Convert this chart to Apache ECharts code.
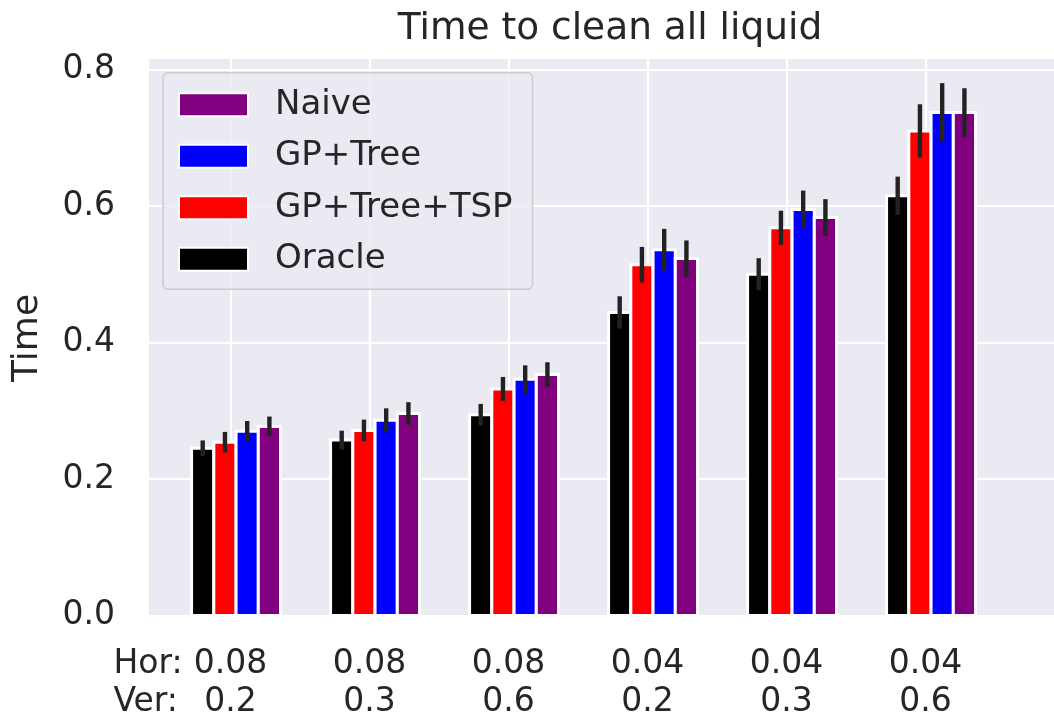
<!DOCTYPE html>
<html>
<head>
<meta charset="utf-8">
<script src="https://cdn.jsdelivr.net/npm/echarts@6/dist/echarts.min.js"></script>
<style>
  html, body { margin: 0; padding: 0; background: #ffffff; }
  #chart { width: 1054px; height: 716px; }
</style>
</head>
<body>
<div id="chart"></div>
<script>
// Grid resolution settings for each scenario
const horizontal = ['0.08', '0.08', '0.08', '0.04', '0.04', '0.04'];
const vertical   = ['0.2', '0.3', '0.6', '0.2', '0.3', '0.6'];

// Mean cleaning time per method, and half-width of its error bar
const oracleTime = [0.245, 0.257, 0.294, 0.444, 0.500, 0.615];
const oracleErr  = [0.0115, 0.0138, 0.016, 0.0237, 0.0235, 0.028];
const tspTime    = [0.254, 0.271, 0.332, 0.514, 0.568, 0.710];
const tspErr     = [0.015, 0.016, 0.0175, 0.026, 0.025, 0.039];
const treeTime   = [0.270, 0.286, 0.346, 0.536, 0.595, 0.737];
const treeErr    = [0.015, 0.0175, 0.0205, 0.0305, 0.0275, 0.043];
const naiveTime  = [0.277, 0.296, 0.353, 0.523, 0.583, 0.737];
const naiveErr   = [0.0145, 0.0165, 0.018, 0.0265, 0.027, 0.0355];

const legendOrder = ['Naive', 'GP+Tree', 'GP+Tree+TSP', 'Oracle'];
const yTickStep = 0.2;
const yMax = 0.8168;

const FONT = 'DejaVu Sans';
const INK = '#262626';
const BG = '#EAEAF2';

// bars drawn left to right inside each group
const methods = [
  { name: 'Oracle',      color: '#000000', mean: oracleTime, err: oracleErr },
  { name: 'GP+Tree+TSP', color: '#ff0000', mean: tspTime,    err: tspErr },
  { name: 'GP+Tree',     color: '#0000ff', mean: treeTime,   err: treeErr },
  { name: 'Naive',       color: '#800080', mean: naiveTime,  err: naiveErr }
];

const BAR_FRAC = 0.16;   // bar width relative to group spacing
const GROUP_SHIFT = 1.25; // bar slot that sits on the tick

const series = methods.map((m, k) => ({
  type: 'custom',
  name: m.name,
  xAxisIndex: 1,
  yAxisIndex: 1,
  clip: false,
  z: 3,
  itemStyle: { color: m.color },
  encode: { x: 0, y: 1 },
  data: m.mean.map((v, i) => [i, v, m.err[i]]),
  renderItem: (params, api) => {
    const i = api.value(0);
    const v = api.value(1);
    const e = api.value(2);
    const band = api.size([1, 0])[0];
    const w = band * BAR_FRAC;
    const base = api.coord([i, 0]);
    const top = api.coord([i, v]);
    const lo = api.coord([i, v - e]);
    const hi = api.coord([i, v + e]);
    const cx = base[0] + (k - GROUP_SHIFT) * w;
    return {
      type: 'group',
      children: [
        {
          type: 'rect',
          shape: { x: cx - w / 2, y: top[1], width: w, height: base[1] - top[1] },
          style: { fill: api.visual('color'), stroke: '#ffffff', lineWidth: 3 }
        },
        {
          type: 'line',
          shape: { x1: cx, y1: hi[1], x2: cx, y2: lo[1] },
          style: { stroke: '#222222', lineWidth: 4.4 },
          z2: 10
        }
      ]
    };
  }
}));

const chart = echarts.init(document.getElementById('chart'), null, { renderer: 'canvas' });

chart.setOption({
  animation: false,
  backgroundColor: '#ffffff',
  title: {
    text: 'Time to clean all liquid',
    left: 605,
    top: 4,
    textAlign: 'center',
    textStyle: { fontFamily: FONT, fontSize: 37.5, fontWeight: 'normal', color: INK, lineHeight: 40 }
  },
  legend: {
    data: legendOrder.map(n => ({ name: n, icon: 'rect' })),
    orient: 'vertical',
    left: 163,
    top: 72.7,
    padding: [15, 20, 13, 15],
    itemWidth: 69,
    itemHeight: 23,
    itemGap: 17.5,
    itemStyle: { borderColor: '#ffffff', borderWidth: 2 },
    textStyle: { fontFamily: FONT, fontSize: 34, color: INK, padding: [0, 0, 0, 22] },
    backgroundColor: 'rgba(234,234,242,0.8)',
    borderColor: '#cccccc',
    borderWidth: 1.5,
    borderRadius: 5,
    selectedMode: false
  },
  grid: [
    { // plot background with horizontal grid lines
      show: true, backgroundColor: BG, borderWidth: 0,
      left: 149, right: 0, top: 58, bottom: 100.5,
      outerBoundsMode: 'none', containLabel: false
    },
    { // category positions for the groups
      show: false,
      left: 230.5, right: 128.5, top: 58, bottom: 100.5,
      outerBoundsMode: 'none', containLabel: false
    }
  ],
  xAxis: [
    { gridIndex: 0, type: 'value', min: 0, max: 1, show: false },
    {
      gridIndex: 1,
      type: 'category',
      boundaryGap: false,
      data: horizontal.map((h, i) => h + '\n' + vertical[i]),
      axisLine: { show: false },
      axisTick: { show: false },
      axisLabel: {
        interval: 0,
        margin: 29.5,
        fontFamily: FONT,
        fontSize: 33,
        lineHeight: 38.5,
        color: INK,
        align: 'center'
      },
      splitLine: { show: true, lineStyle: { color: '#ffffff', width: 2.2 } }
    }
  ],
  yAxis: [
    {
      gridIndex: 0,
      type: 'value',
      min: 0,
      max: yMax,
      interval: yTickStep,
      axisLine: { show: false },
      axisTick: { show: false },
      axisLabel: {
        showMaxLabel: false,
        margin: 34,
        fontFamily: FONT,
        fontSize: 33,
        color: INK,
        padding: [16, 0, 0, 0],
        formatter: v => v.toFixed(1)
      },
      splitLine: { show: true, lineStyle: { color: '#ffffff', width: 2.2 } }
    },
    { gridIndex: 1, type: 'value', min: 0, max: yMax, show: false, splitLine: { show: false } }
  ],
  graphic: [
    {
      type: 'text',
      x: 28, y: 338,
      rotation: Math.PI / 2,
      style: { text: 'Time', font: '36px "DejaVu Sans"', fill: INK, align: 'center', verticalAlign: 'middle' }
    },
    {
      type: 'text',
      x: 113.5, y: 664.3,
      style: { text: 'Hor:', font: '33px "DejaVu Sans"', fill: INK, align: 'left', verticalAlign: 'middle' }
    },
    {
      type: 'text',
      x: 113.5, y: 702.8,
      style: { text: 'Ver:', font: '33px "DejaVu Sans"', fill: INK, align: 'left', verticalAlign: 'middle' }
    }
  ],
  series: series
});
</script>
</body>
</html>
